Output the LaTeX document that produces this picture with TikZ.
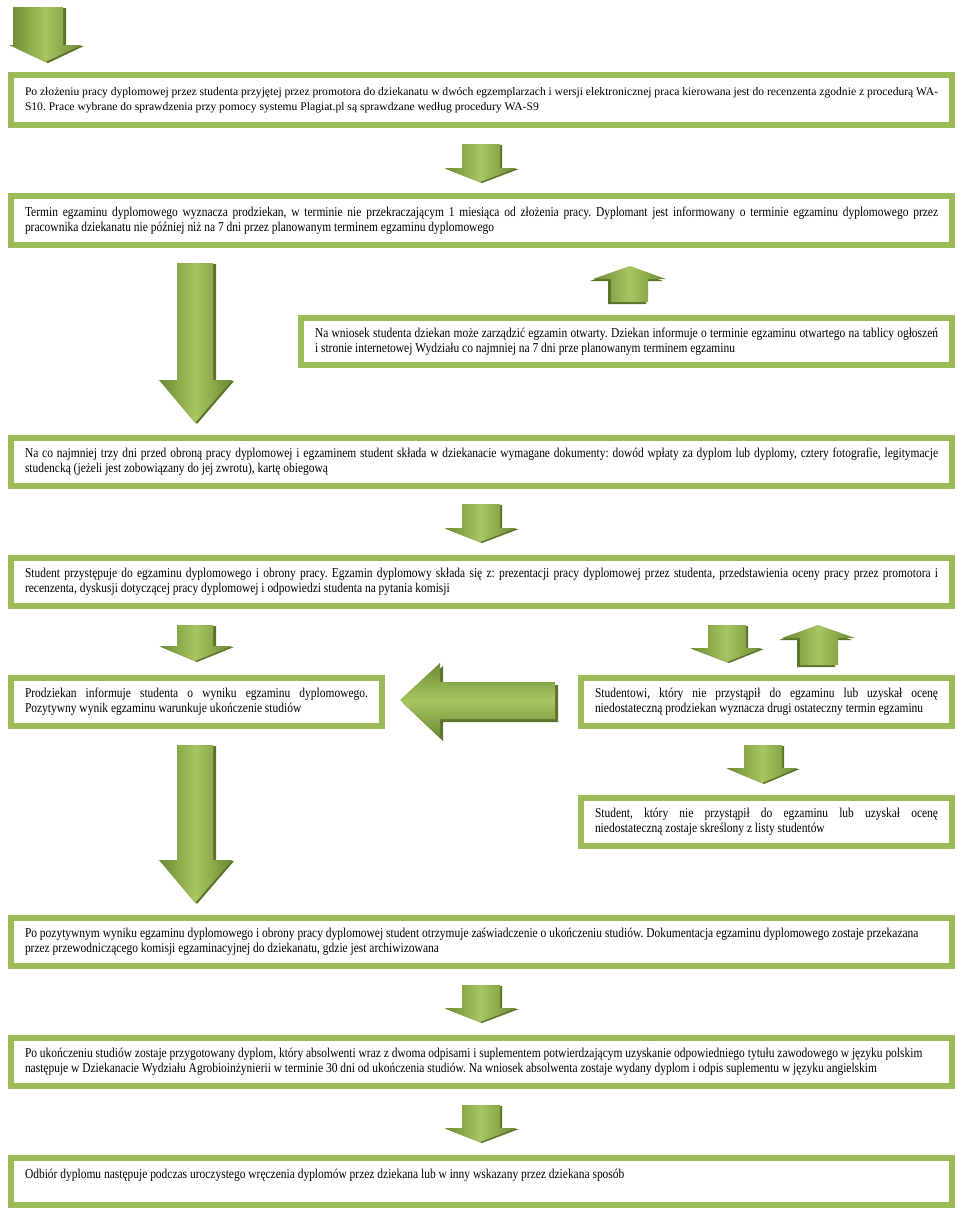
\documentclass[tikz,border=0pt]{standalone}
\usepackage{fontspec}
\setmainfont{Liberation Serif}
\newfontfamily\narrowserif[FakeStretch=0.85]{Liberation Serif}
\definecolor{boxgreen}{HTML}{9BBB59}
\definecolor{arrowdark}{HTML}{6B8A32}
\definecolor{arrowlight}{HTML}{A6C663}
\definecolor{arrowshadow}{HTML}{5A7529}
\tikzset{
  flowbox/.style={draw=boxgreen, line width=6pt, fill=white, anchor=north west,
    inner xsep=14pt, inner ysep=0pt, outer sep=0pt, align=justify,
    minimum height=48pt},
  widebox/.style={flowbox, minimum width=941pt, text width=913pt},
  halfbox/.style={flowbox, minimum width=371pt, text width=343pt},
  plaintext/.style={font=\frenchspacing\fontsize{11.6}{15}\selectfont},
  narrowtext/.style={font=\frenchspacing\narrowserif\fontsize{13.5}{15}\selectfont},
  vbody/.style={left color=arrowdark, right color=arrowdark, middle color=arrowlight},
  hbody/.style={top color=arrowdark, bottom color=arrowdark, middle color=arrowlight},
  shadowpart/.style={fill=arrowshadow}
}
\begin{document}
\begin{tikzpicture}[x=1pt,y=-1pt]
  \useasboundingbox (0,0) rectangle (960,1216);

  %% start arrow
  \fill[shadowpart] (16,8) -- (66,8) -- (66,46) -- (84,46) -- (48,63) -- (12,46) -- (16,46) -- cycle;
  \shade[vbody] (13,7) -- (63,7) -- (63,45) -- (82,45) -- (45,62) -- (9,45) -- (13,45) -- cycle;

  %% L1
  \node[widebox, plaintext, minimum height=50pt] (zlozenie) at (11,75)
    {Po złożeniu pracy dyplomowej przez studenta przyjętej przez promotora do dziekanatu w dwóch egzemplarzach i wersji elektronicznej praca kierowana jest do recenzenta zgodnie z procedurą WA-\linebreak
     S10. Prace wybrane do sprawdzenia przy pomocy systemu Plagiat.pl są sprawdzane według procedury WA-S9};

  \fill[shadowpart] (465,145) -- (502,145) -- (502,169) -- (519,169) -- (482,183) -- (446,169) -- (465,169) -- cycle;
  \shade[vbody] (462,144) -- (500,144) -- (500,168) -- (517,168) -- (480,182) -- (444,168) -- (462,168) -- cycle;

  %% L2
  \node[widebox, narrowtext, minimum height=49pt] (termin) at (11,196)
    {Termin egzaminu dyplomowego wyznacza prodziekan, w terminie nie przekraczającym 1 miesiąca od złożenia pracy. Dyplomant jest informowany o terminie egzaminu dyplomowego przez\linebreak
     pracownika dziekanatu nie później niż na 7 dni przez planowanym terminem egzaminu dyplomowego};

  % long arrow down
  \fill[shadowpart] (180,264) -- (216,264) -- (216,381) -- (234,381) -- (197,424) -- (161,381) -- (180,381) -- cycle;
  \shade[vbody] (177,263) -- (213,263) -- (213,380) -- (232,380) -- (195,423) -- (159,380) -- (177,380) -- cycle;

  % arrow up
  \fill[shadowpart] (608,304) -- (646,304) -- (646,281) -- (663,281) -- (627,268) -- (590,281) -- (608,281) -- cycle;
  \shade[vbody] (611,302) -- (648,302) -- (648,279) -- (666,279) -- (630,266) -- (593,279) -- (611,279) -- cycle;

  %% L3
  \node[flowbox, narrowtext, minimum width=651pt, text width=623pt, minimum height=47pt] (otwarty) at (301,318)
    {Na wniosek studenta dziekan może zarządzić egzamin otwarty. Dziekan informuje o terminie egzaminu otwartego na tablicy ogłoszeń\linebreak
     i stronie internetowej Wydziału co najmniej na 7 dni prze planowanym terminem egzaminu};

  %% L4
  \node[widebox, narrowtext] (dokumenty) at (11,438)
    {Na co najmniej trzy dni przed obroną pracy dyplomowej i egzaminem student składa w dziekanacie wymagane dokumenty: dowód wpłaty za dyplom lub dyplomy, cztery fotografie, legitymacje\linebreak
     studencką (jeżeli jest zobowiązany do jej zwrotu), kartę obiegową};

  \fill[shadowpart] (465,505) -- (502,505) -- (502,529) -- (519,529) -- (482,543) -- (446,529) -- (465,529) -- cycle;
  \shade[vbody] (462,504) -- (500,504) -- (500,528) -- (517,528) -- (480,542) -- (444,528) -- (462,528) -- cycle;

  %% L5
  \node[widebox, narrowtext] (egzamin) at (11,558)
    {Student przystępuje do egzaminu dyplomowego i obrony pracy. Egzamin dyplomowy składa się z: prezentacji pracy dyplomowej przez studenta, przedstawienia oceny pracy przez promotora i\linebreak
     recenzenta, dyskusji dotyczącej pracy dyplomowej i odpowiedzi studenta na pytania komisji};

  \fill[shadowpart] (180,626) -- (216,626) -- (216,647) -- (234,647) -- (197,662) -- (161,647) -- (180,647) -- cycle;
  \shade[vbody] (177,625) -- (213,625) -- (213,646) -- (232,646) -- (195,661) -- (159,646) -- (177,646) -- cycle;

  \fill[shadowpart] (711,626) -- (748,626) -- (748,649) -- (764,649) -- (729,663) -- (692,649) -- (711,649) -- cycle;
  \shade[vbody] (708,625) -- (746,625) -- (746,648) -- (762,648) -- (727,662) -- (690,648) -- (708,648) -- cycle;

  \fill[shadowpart] (797,667) -- (835,667) -- (835,640) -- (852,640) -- (815,627) -- (779,640) -- (797,640) -- cycle;
  \shade[vbody] (800,665) -- (838,665) -- (838,638) -- (855,638) -- (818,625) -- (782,638) -- (800,638) -- cycle;

  %% L6 wynik / drugi termin
  \node[halfbox, narrowtext] (wynik) at (11,678)
    {Prodziekan informuje studenta o wyniku egzaminu dyplomowego.\linebreak
     Pozytywny wynik egzaminu warunkuje ukończenie studiów};

  \fill[shadowpart] (403,703) -- (443,666) -- (443,685) -- (558,685) -- (558,722) -- (443,722) -- (443,741) -- cycle;
  \shade[hbody] (400,700) -- (440,663) -- (440,682) -- (555,682) -- (555,719) -- (440,719) -- (440,738) -- cycle;

  \node[halfbox, narrowtext] (drugi) at (581,678)
    {Studentowi, który nie przystąpił do egzaminu lub uzyskał ocenę\linebreak
     niedostateczną prodziekan wyznacza drugi ostateczny termin egzaminu};

  \fill[shadowpart] (747,746) -- (784,746) -- (784,769) -- (800,769) -- (764,784) -- (728,769) -- (747,769) -- cycle;
  \shade[vbody] (744,745) -- (782,745) -- (782,768) -- (798,768) -- (762,783) -- (726,768) -- (744,768) -- cycle;

  %% L7 skreslenie
  \node[halfbox, narrowtext] (skreslony) at (581,798)
    {Student, który nie przystąpił do egzaminu lub uzyskał ocenę\linebreak
     niedostateczną zostaje skreślony z listy studentów};

  % long arrow down
  \fill[shadowpart] (180,746) -- (216,746) -- (216,861) -- (234,861) -- (197,904) -- (161,861) -- (180,861) -- cycle;
  \shade[vbody] (177,745) -- (213,745) -- (213,860) -- (232,860) -- (195,903) -- (159,860) -- (177,860) -- cycle;

  %% L8
  \node[widebox, narrowtext] (zaswiadczenie) at (11,918)
    {Po pozytywnym wyniku egzaminu dyplomowego i obrony pracy dyplomowej student otrzymuje zaświadczenie o ukończeniu studiów. Dokumentacja egzaminu dyplomowego zostaje przekazana\\
     przez przewodniczącego komisji egzaminacyjnej do dziekanatu, gdzie jest archiwizowana};

  \fill[shadowpart] (465,986) -- (502,986) -- (502,1009) -- (519,1009) -- (482,1023) -- (446,1009) -- (465,1009) -- cycle;
  \shade[vbody] (462,985) -- (500,985) -- (500,1008) -- (517,1008) -- (480,1022) -- (444,1008) -- (462,1008) -- cycle;

  %% L9
  \node[widebox, narrowtext] (dyplom) at (11,1038)
    {Po ukończeniu studiów zostaje przygotowany dyplom, który absolwenti wraz z dwoma odpisami i suplementem potwierdzającym uzyskanie odpowiedniego tytułu zawodowego w języku polskim\\
     następuje w Dziekanacie Wydziału Agrobioinżynierii w terminie 30 dni od ukończenia studiów. Na wniosek absolwenta zostaje wydany dyplom i odpis suplementu w języku angielskim};

  \fill[shadowpart] (465,1106) -- (502,1106) -- (502,1129) -- (519,1129) -- (482,1143) -- (446,1129) -- (465,1129) -- cycle;
  \shade[vbody] (462,1105) -- (500,1105) -- (500,1128) -- (517,1128) -- (480,1142) -- (444,1128) -- (462,1128) -- cycle;

  %% L10 terminate
  \node[widebox, narrowtext, minimum height=47pt] (odbior) at (11,1158)
    {Odbiór dyplomu następuje podczas uroczystego wręczenia dyplomów przez dziekana lub w inny wskazany przez dziekana sposób\\ \mbox{}};
\end{tikzpicture}
\end{document}
